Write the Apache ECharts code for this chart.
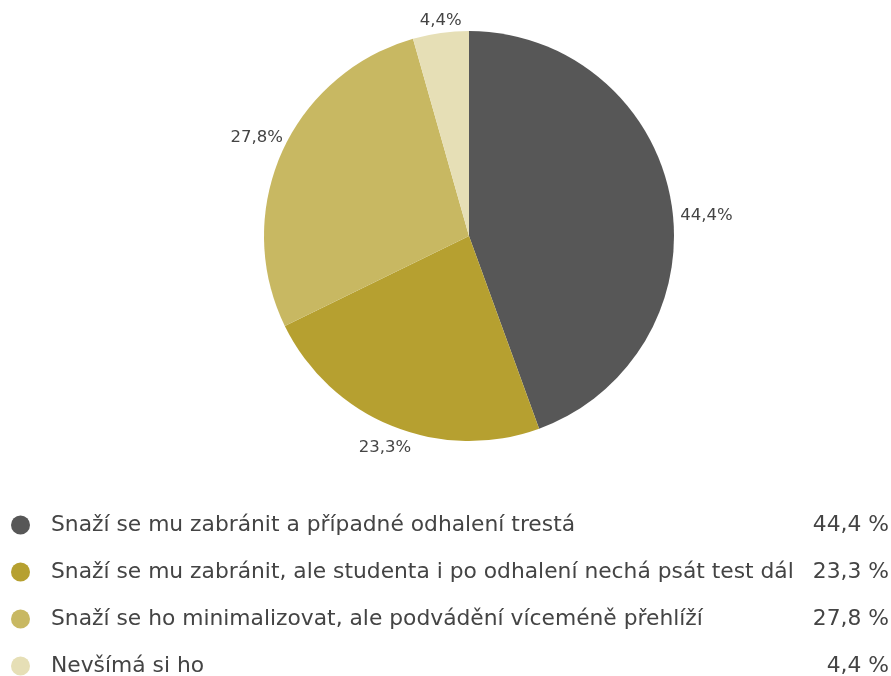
<!DOCTYPE html>
<html>
<head>
<meta charset="utf-8">
<script src="https://cdn.jsdelivr.net/npm/echarts@6/dist/echarts.min.js"></script>
<style>html,body{margin:0;padding:0;background:#fff}#c{width:891px;height:676px}</style>
</head>
<body>
<div id="c"></div>
<script>
const categories = [
  "Snaží se mu zabránit a případné odhalení trestá",
  "Snaží se mu zabránit, ale studenta i po odhalení nechá psát test dál",
  "Snaží se ho minimalizovat, ale podvádění víceméně přehlíží",
  "Nevšímá si ho"
];
const values = [44.4, 23.3, 27.8, 4.4];
const colors = ["#575757", "#b6a030", "#c8b862", "#e6dfb6"];

const CX = 469, CY = 236, R = 205, LABEL_GAP = 22;
// small per-label nudges (style only)
const labelNudge = [[14, 19], [1, 1], [-5, -6], [3, 10]];
const total = values.reduce((a, b) => a + b, 0);
const midAngles = [];
{ let acc = 0; values.forEach(v => { midAngles.push((acc + v / 2) / total * 2 * Math.PI); acc += v; }); }

const fmt = v => v.toFixed(1).replace('.', ',');
const FONT = 'DejaVu Sans';
const TXT = '#444444';
const chart = echarts.init(document.getElementById('c'));
chart.setOption({
  animation: false,
  textStyle: { fontFamily: FONT },
  legend: {
    orient: 'vertical',
    left: 11,
    top: 514,
    height: 200,
    padding: 0,
    itemWidth: 19,
    itemHeight: 19,
    itemGap: 25,
    icon: 'circle',
    data: categories,
    formatter: name => {
      const i = categories.indexOf(name);
      return '{n|' + name + '}{v|' + fmt(values[i]) + ' %}';
    },
    textStyle: {
      rich: {
        n: { fontSize: 21.8, lineHeight: 20, color: TXT, width: 758, padding: [0, 0, 0, 16], fontFamily: FONT },
        v: { fontSize: 21.8, lineHeight: 20, color: TXT, width: 80, align: 'right', fontFamily: FONT }
      }
    }
  },
  series: [{
    type: 'pie',
    center: [CX, CY],
    radius: R,
    startAngle: 90,
    clockwise: true,
    color: colors,
    label: {
      show: true,
      position: 'outside',
      formatter: p => fmt(p.value) + '%',
      fontSize: 16.5,
      color: TXT,
      fontFamily: FONT
    },
    labelLine: { show: false },
    labelLayout: p => {
      const a = midAngles[p.dataIndex];
      const n = labelNudge[p.dataIndex];
      return {
        x: CX + (R + LABEL_GAP) * Math.sin(a) + n[0],
        y: CY - (R + LABEL_GAP) * Math.cos(a) + n[1],
        align: 'center',
        verticalAlign: 'middle'
      };
    },
    itemStyle: { borderWidth: 0 },
    emphasis: { disabled: true },
    data: categories.map((n, i) => ({ name: n, value: values[i] }))
  }]
});
</script>
</body>
</html>
